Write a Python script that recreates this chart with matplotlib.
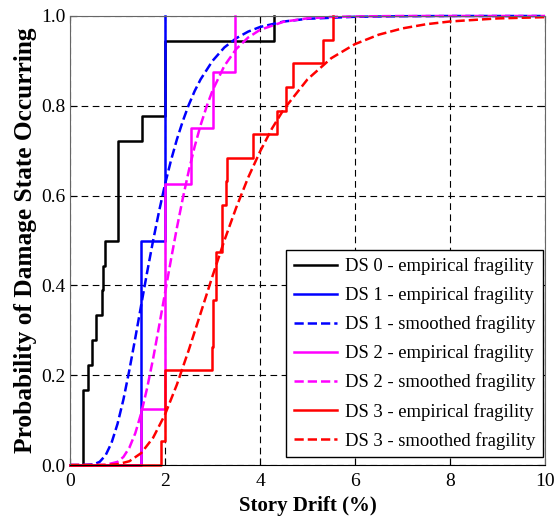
import matplotlib
matplotlib.use("Agg")
import matplotlib.pyplot as plt

plt.rcParams['font.family'] = ['Liberation Serif', 'DejaVu Serif']

# ---- data ----
# DS0 empirical fragility (steps)
ds0_x = [0.27, 0.37, 0.47, 0.54, 0.68, 0.70, 0.73, 1.01, 1.52, 2.0, 4.30]
ds0_p = [0.167, 0.222, 0.278, 0.333, 0.389, 0.444, 0.5, 0.722, 0.778, 0.944, 1.0]

# DS1 empirical fragility (steps)
ds1_x = [1.5, 2.0]
ds1_p = [0.5, 1.0]

# DS1 smoothed fragility
ds1s_x = [0, 0.25, 0.5, 0.625, 0.75, 0.875, 1.0, 1.125, 1.25, 1.375, 1.5, 1.625,
          1.75, 1.875, 2.0, 2.125, 2.25, 2.375, 2.5, 2.625, 2.75, 3.0, 3.25, 3.5,
          3.75, 4.0, 4.5, 5.0, 6.0, 7.0, 8.0, 10.0]
ds1s_p = [0, 0, 0.0014, 0.0071, 0.0218, 0.0495, 0.0914, 0.146, 0.2116, 0.283, 0.357, 0.430,
          0.5, 0.565, 0.625, 0.678, 0.725, 0.766, 0.802, 0.833, 0.859, 0.900, 0.930, 0.9505,
          0.9652, 0.9755, 0.9877, 0.9938, 0.9983, 0.9995, 1.0, 1.0]

# DS2 empirical fragility (steps)
ds2_x = [1.5, 2.0, 2.55, 3.01, 3.47]
ds2_p = [0.125, 0.625, 0.75, 0.875, 1.0]

# DS2 smoothed fragility
ds2s_x = [0, 0.5, 0.75, 1.0, 1.125, 1.25, 1.375, 1.5, 1.625, 1.75, 1.875, 2.0, 2.125,
          2.25, 2.375, 2.5, 2.625, 2.75, 2.875, 3.0, 3.25, 3.5, 3.75, 4.0, 4.5, 5.0,
          5.5, 6.0, 7.0, 10.0]
ds2s_p = [0, 0, 0.0004, 0.0069, 0.018, 0.0386, 0.0709, 0.1157, 0.172, 0.237, 0.309, 0.383, 0.457,
          0.528, 0.594, 0.655, 0.7095, 0.757, 0.798, 0.834, 0.889, 0.9266, 0.952, 0.9691, 0.9873, 0.9948,
          0.9979, 0.9991, 1.0, 1.0]

# DS3 empirical fragility (steps)
ds3_x = [1.92, 2.0, 2.98, 3.0, 3.07, 3.19, 3.28, 3.31, 3.85, 4.35, 4.55, 4.69, 5.32, 5.53]
ds3_p = [0.053, 0.211, 0.263, 0.368, 0.474, 0.579, 0.632, 0.684, 0.737, 0.789, 0.842,
         0.895, 0.947, 1.0]

# DS3 smoothed fragility
ds3s_x = [0, 0.5, 0.75, 1.0, 1.25, 1.5, 1.75, 2.0, 2.25, 2.5, 2.75, 3.0, 3.25, 3.5, 3.75,
          4.0, 4.25, 4.5, 5.0, 5.5, 6.0, 6.5, 7.0, 7.5, 8.0, 9.0, 10.0]
ds3s_p = [0, 0, 0.0001, 0.0016, 0.0084, 0.0266, 0.0608, 0.1124, 0.179, 0.256, 0.338, 0.4207,
          0.5, 0.5735, 0.640, 0.698, 0.749, 0.792, 0.859, 0.906, 0.9374, 0.9584, 0.9724, 0.9817,
          0.9878, 0.9946, 0.9975]

labels = ["DS 0 - empirical fragility", "DS 1 - empirical fragility",
          "DS 1 - smoothed fragility", "DS 2 - empirical fragility",
          "DS 2 - smoothed fragility", "DS 3 - empirical fragility",
          "DS 3 - smoothed fragility"]

x_ticks = [0, 2, 4, 6, 8, 10]
y_ticks = [0.0, 0.2, 0.4, 0.6, 0.8, 1.0]

XMIN = 0


def steps(xs, ps):
    # empirical CDF: starts at 0 from the axis origin, ends at its last sample
    return [XMIN] + xs, [0.0] + ps


fig = plt.figure(figsize=(5.58, 5.23), dpi=100)
ax = fig.add_axes([70 / 558, 1 - 465 / 523, 475 / 558, 449 / 523])

lw = 1.8
sx, sy = steps(ds0_x, ds0_p)
ax.step(sx, sy, where='post', color='black', lw=lw, label=labels[0], clip_on=False)
sx, sy = steps(ds1_x, ds1_p)
ax.step(sx, sy, where='post', color='#0000FF', lw=lw, label=labels[1], clip_on=False)
ax.plot(ds1s_x, ds1s_p, color='#0000FF', lw=lw, ls='--', label=labels[2], clip_on=False)
sx, sy = steps(ds2_x, ds2_p)
ax.step(sx, sy, where='post', color='#FF00FF', lw=lw, label=labels[3], clip_on=False)
ax.plot(ds2s_x, ds2s_p, color='#FF00FF', lw=lw, ls='--', label=labels[4], clip_on=False)
sx, sy = steps(ds3_x, ds3_p)
ax.step(sx, sy, where='post', color='#FF0000', lw=lw, label=labels[5], clip_on=False)
ax.plot(ds3s_x, ds3s_p, color='#FF0000', lw=lw, ls='--', label=labels[6], clip_on=False)

ax.set_xlim(0, 10)
ax.set_ylim(0, 1)
ax.set_xticks(x_ticks)
ax.set_xticklabels([str(t) for t in x_ticks])
ax.set_yticks(y_ticks)
ax.set_yticklabels([f"{t:.1f}" for t in y_ticks])
ax.tick_params(direction='in', length=5, width=0.8, labelsize=14,
               top=True, right=True)
ax.tick_params(axis='x', pad=6)
ax.tick_params(axis='y', pad=3)

ax.grid(True, color='black', ls=(0, (6, 4)), lw=0.8)
ax.set_axisbelow(True)
for s in ax.spines.values():
    s.set_linewidth(0.8)
    s.set_color('#666666')
ax.spines['bottom'].set_color('black')

ax.set_xlabel("Story Drift (%)", fontsize=15, fontweight='bold', labelpad=4)
ax.set_ylabel("Probability of Damage State Occurring", fontsize=18.3,
              fontweight='bold', labelpad=3)

leg = ax.legend(loc='lower right', bbox_to_anchor=(0.9958, 0.0178),
                fontsize=13.4, frameon=True, fancybox=False,
                edgecolor='black', framealpha=1, borderaxespad=0.0,
                handlelength=2.3, labelspacing=0.6, handletextpad=0.45,
                borderpad=0.4)
leg.get_frame().set_linewidth(1.0)

fig.savefig("out.png", dpi=100)
